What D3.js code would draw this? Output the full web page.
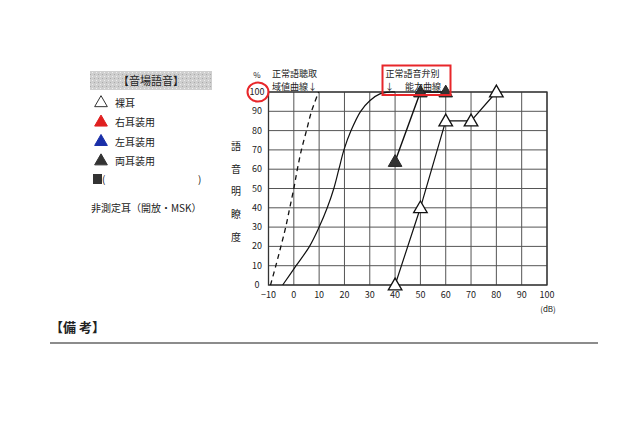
<!DOCTYPE html>
<html>
<head>
<meta charset="utf-8">
<script src="https://cdn.jsdelivr.net/npm/d3@7"></script>
<style>
  body { margin: 0; background: #fff; }
  svg { display: block; font-family: "Noto Sans CJK JP", "DejaVu Sans", sans-serif; }
</style>
</head>
<body>
<div id="chart"></div>
<script>
// tick values
const dbTicks = [-10, 0, 10, 20, 30, 40, 50, 60, 70, 80, 90, 100];
const pctTicks = [0, 10, 20, 30, 40, 50, 60, 70, 80, 90, 100];

// 裸耳 (open triangles)
const bareDb = [40, 50, 60, 70, 80];
const bareScore = [0, 40, 85, 85, 100];

// 両耳装用 (filled triangles)
const aidedDb = [40, 50, 60];
const aidedScore = [64, 100, 100];

// 正常語音弁別能力曲線
const normDb = [-4.4, 0.9, 6.2, 10, 13.2, 15.8, 17.8, 19.8, 22.6, 26.4, 30, 34, 38, 40];
const normScore = [0, 10, 20, 30, 40, 50, 60, 70, 80, 90, 95.5, 99, 100, 100];

// 正常語聴取域値曲線 (dashed)
const threshDb = [-9.2, -7.1, -5.1, -3.2, -1.6, 0, 1.4, 3, 5, 7, 9.8];
const threshScore = [0, 10, 20, 30, 40, 50, 60, 70, 80, 90, 100];

const legendLabels = ["裸耳", "右耳装用", "左耳装用", "両耳装用"];
const legendColors = ["#fff", "#e02020", "#1a2fa8", "#333"];

const W = 640, H = 427;
const svg = d3.select("#chart").append("svg")
  .attr("width", W)
  .attr("height", H);

const x = d3.scaleLinear().domain([-10, 100]).range([268.5, 547]);
const y = d3.scaleLinear().domain([0, 100]).range([285, 92]);

// grid
const grid = svg.append("g");
grid.selectAll(".vx")
  .data(dbTicks)
  .join("line")
  .attr("x1", d => x(d)).attr("x2", d => x(d))
  .attr("y1", y(0)).attr("y2", y(100))
  .attr("stroke", "#555").attr("stroke-width", 1);
grid.selectAll(".hy")
  .data(pctTicks)
  .join("line")
  .attr("x1", x(-10)).attr("x2", x(100))
  .attr("y1", d => y(d)).attr("y2", d => y(d))
  .attr("stroke", "#555").attr("stroke-width", 1);
// frame a bit darker
grid.append("rect")
  .attr("x", x(-10)).attr("y", y(100))
  .attr("width", x(100) - x(-10)).attr("height", y(0) - y(100))
  .attr("fill", "none").attr("stroke", "#333").attr("stroke-width", 1.3);

// tick labels
svg.append("g").selectAll("text")
  .data(dbTicks)
  .join("text")
  .attr("x", d => x(d))
  .attr("y", 298)
  .attr("text-anchor", "middle")
  .attr("font-size", 9)
  .attr("fill", "#222")
  .text(d => d === -10 ? "−10" : d);

svg.append("g").selectAll("text")
  .data(pctTicks)
  .join("text")
  .attr("x", 257)
  .attr("y", d => y(d) + 3)
  .attr("text-anchor", "middle")
  .attr("font-size", 9)
  .attr("fill", "#222")
  .text(d => d);

svg.append("text").attr("x", 257).attr("y", 78).attr("text-anchor", "middle")
  .attr("font-size", 8).attr("fill", "#222").text("%");
svg.append("ellipse").attr("cx", 258).attr("cy", y(100)).attr("rx", 10.5).attr("ry", 9.5)
  .attr("fill", "none").attr("stroke", "#e8262a").attr("stroke-width", 2);

svg.append("text").attr("x", 548).attr("y", 312).attr("text-anchor", "middle")
  .attr("font-size", 8).attr("fill", "#222").text("(dB)");

// y title
svg.append("g").selectAll("text")
  .data(["語", "音", "明", "瞭", "度"])
  .join("text")
  .attr("x", 236)
  .attr("y", (d, i) => 150 + i * 22.7)
  .attr("text-anchor", "middle")
  .attr("font-size", 10)
  .attr("fill", "#222")
  .text(d => d);

// curves
const smooth = d3.line().x(d => x(d[0])).y(d => y(d[1])).curve(d3.curveCatmullRom.alpha(0.5));
const straight = d3.line().x(d => x(d[0])).y(d => y(d[1]));

svg.append("path")
  .datum(d3.zip(threshDb, threshScore))
  .attr("d", smooth)
  .attr("fill", "none").attr("stroke", "#111").attr("stroke-width", 1.3)
  .attr("stroke-dasharray", "5,4");

svg.append("path")
  .datum(d3.zip(normDb, normScore))
  .attr("d", smooth)
  .attr("fill", "none").attr("stroke", "#111").attr("stroke-width", 1.2);

svg.append("path")
  .datum(d3.zip(bareDb, bareScore))
  .attr("d", straight)
  .attr("fill", "none").attr("stroke", "#111").attr("stroke-width", 1.2);

svg.append("path")
  .datum(d3.zip(aidedDb, aidedScore))
  .attr("d", straight)
  .attr("fill", "none").attr("stroke", "#111").attr("stroke-width", 1.4);

const tri = d3.symbol().type(d3.symbolTriangle).size(80);

svg.append("g").selectAll("path")
  .data(d3.zip(bareDb, bareScore))
  .join("path")
  .attr("transform", d => `translate(${x(d[0])},${y(d[1]) + 1})`)
  .attr("d", tri)
  .attr("fill", "#fff").attr("stroke", "#111").attr("stroke-width", 1.3);

svg.append("g").selectAll("path")
  .data(d3.zip(aidedDb, aidedScore))
  .join("path")
  .attr("transform", d => `translate(${x(d[0])},${y(d[1]) + 1})`)
  .attr("d", tri)
  .attr("fill", "#333").attr("stroke", "#222").attr("stroke-width", 1);

// annotations
const ann = svg.append("g").attr("font-size", 9).attr("fill", "#222");
ann.append("text").attr("x", 272).attr("y", 76.5).text("正常語聴取");
ann.append("text").attr("x", 272).attr("y", 89.5).text("域値曲線↓");
ann.append("rect").attr("x", 382.5).attr("y", 65.5).attr("width", 68).attr("height", 29.5)
  .attr("fill", "none").attr("stroke", "#e8262a").attr("stroke-width", 2);
ann.append("text").attr("x", 385.5).attr("y", 76.5).text("正常語音弁別");
ann.append("text").attr("x", 385).attr("y", 89.5).text("↓");
ann.append("text").attr("x", 405).attr("y", 89.5).text("能力曲線");

// legend
const defs = svg.append("defs");
const pat = defs.append("pattern").attr("id", "noise")
  .attr("width", 4).attr("height", 4).attr("patternUnits", "userSpaceOnUse");
pat.append("rect").attr("width", 4).attr("height", 4).attr("fill", "#cfcfcf");
pat.append("rect").attr("width", 1).attr("height", 1).attr("fill", "#eee");
pat.append("rect").attr("x", 2).attr("y", 2).attr("width", 1).attr("height", 1).attr("fill", "#aaa");

svg.append("rect").attr("x", 90).attr("y", 71).attr("width", 122).attr("height", 19)
  .attr("fill", "url(#noise)");
svg.append("text").attr("x", 151).attr("y", 84.5).attr("text-anchor", "middle")
  .attr("font-size", 11).attr("fill", "#222").text("【音場語音】");

const leg = svg.append("g").selectAll("g")
  .data(legendLabels)
  .join("g")
  .attr("transform", (d, i) => `translate(101,${103 + i * 19.4})`);
leg.append("path")
  .attr("d", d3.symbol().type(d3.symbolTriangle).size(70))
  .attr("fill", (d, i) => legendColors[i])
  .attr("stroke", (d, i) => i === 0 ? "#333" : legendColors[i])
  .attr("stroke-width", 1);
leg.append("text")
  .attr("x", 14).attr("y", 4)
  .attr("font-size", 10).attr("fill", "#222")
  .text(d => d);

svg.append("rect").attr("x", 93).attr("y", 174).attr("width", 9).attr("height", 10).attr("fill", "#333");
svg.append("text").attr("x", 102).attr("y", 183).attr("font-size", 10).attr("fill", "#222").text("(");
svg.append("text").attr("x", 198).attr("y", 183).attr("font-size", 10).attr("fill", "#222").text(")");
svg.append("text").attr("x", 91).attr("y", 212).attr("font-size", 10).attr("fill", "#222")
  .text("非測定耳（開放・MSK）");

// remarks
svg.append("text").attr("x", 50).attr("y", 332).attr("font-size", 13).attr("font-weight", "bold")
  .attr("fill", "#222").text("【備 考】");
svg.append("line").attr("x1", 50).attr("x2", 598).attr("y1", 343).attr("y2", 343)
  .attr("stroke", "#666").attr("stroke-width", 1.5);
</script>
</body>
</html>
